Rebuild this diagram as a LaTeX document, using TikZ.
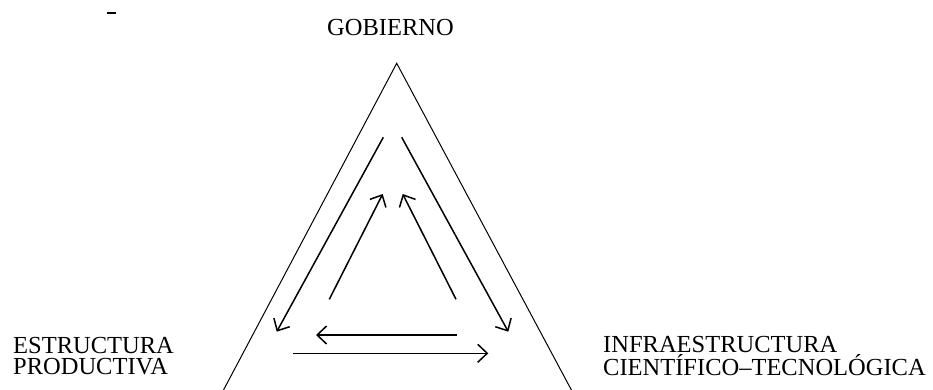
\documentclass[tikz,border=0pt]{standalone}
\usepackage{fontspec}
\setmainfont{Liberation Serif}
\usetikzlibrary{arrows.meta}
\begin{document}
\begin{tikzpicture}[x=1pt,y=-1pt,
  lbl/.style={inner sep=0pt,font=\fontsize{24.5}{20.5}\selectfont,align=left},
  side/.style={line width=1pt},
  flow/.style={line width=1.5pt,-{Straight Barb[length=9.5pt,width=18pt,line width=1.5pt]}}]
\useasboundingbox (0,0) rectangle (933,390);
% labels
\node[lbl,anchor=base] (gob) at (390.5,36) {GOBIERNO};
\node[lbl,anchor=base west] (est) at (13,374) {ESTRUCTURA\\PRODUCTIVA};
\node[lbl,anchor=base west] (inf) at (603,375) {INFRAESTRUCTURA\\CIENTÍFICO–TECNOLÓGICA};
% stray mark
\coordinate (m1) at (107,13);
\coordinate (m2) at (116,13);
\draw[line width=1.8pt] (m1) -- (m2);
% triangle
\coordinate (A) at (396.7,63.3);
\coordinate (L) at (223.5,390);
\coordinate (R) at (571.4,390);
\draw[side] (L) -- (A) -- (R);
% arrows
\coordinate (a1s) at (383.3,137.3); \coordinate (a1e) at (276.7,331.7);
\coordinate (a2s) at (401.7,137.3); \coordinate (a2e) at (508.3,331.7);
\coordinate (a3s) at (329.3,299.3); \coordinate (a3e) at (382.7,194);
\coordinate (a4s) at (456,299.3);   \coordinate (a4e) at (402.7,194);
\coordinate (a5s) at (456.7,335);   \coordinate (a5e) at (316,335);
\coordinate (a6s) at (293.3,353.3); \coordinate (a6e) at (488.3,353.3);
\draw[flow] (a1s) -- (a1e);
\draw[flow] (a2s) -- (a2e);
\draw[flow] (a3s) -- (a3e);
\draw[flow] (a4s) -- (a4e);
\draw[flow] (a5s) -- (a5e);
\draw[flow] (a6s) -- (a6e);
\end{tikzpicture}
\end{document}
